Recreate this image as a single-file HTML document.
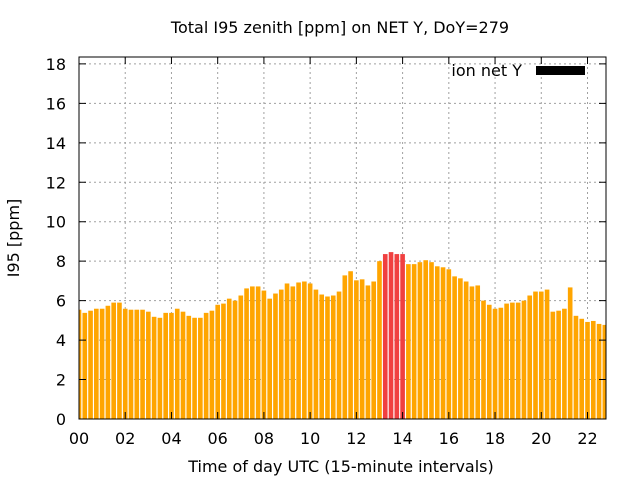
<!DOCTYPE html>
<html><head><meta charset="utf-8"><style>
body{margin:0;background:#fff;}
svg{display:block;font-family:"DejaVu Sans","Liberation Sans",sans-serif;}
</style></head><body>
<svg id="chart" width="640" height="480" viewBox="0 0 640 480">
<text x="340" y="33" text-anchor="middle" font-size="16">Total I95 zenith [ppm] on NET Y, DoY=279</text>
<text x="341" y="472" text-anchor="middle" font-size="16">Time of day UTC (15-minute intervals)</text>
<text x="19" y="238" text-anchor="middle" font-size="16" transform="rotate(-90 19 238)">I95 [ppm]</text>
<g id="grid"></g>
<g id="bars"></g>
<g id="axes"></g>
<g>
<text x="522" y="76" text-anchor="end" font-size="16">ion net Y</text>
<rect x="536" y="66" width="49" height="9" fill="#000"/>
</g>
</svg>
<script>
const values=[5.54,5.38,5.49,5.59,5.59,5.74,5.90,5.90,5.59,5.54,5.54,5.54,5.44,5.18,5.13,5.38,5.38,5.59,5.44,5.23,5.13,5.13,5.38,5.49,5.79,5.85,6.10,6.0,6.26,6.62,6.72,6.72,6.51,6.10,6.36,6.56,6.87,6.72,6.92,6.97,6.87,6.56,6.31,6.21,6.26,6.46,7.28,7.49,7.03,7.08,6.77,6.97,8.0,8.36,8.46,8.36,8.36,7.85,7.85,7.95,8.05,7.95,7.74,7.69,7.59,7.23,7.13,6.97,6.72,6.77,6.0,5.79,5.59,5.64,5.85,5.90,5.90,6.0,6.26,6.46,6.46,6.56,5.44,5.49,5.59,6.67,5.23,5.08,4.92,4.97,4.82,4.77];
const xTickLabels=["00","02","04","06","08","10","12","14","16","18","20","22"];
const yTicks=[0,2,4,6,8,10,12,14,16,18];
const threshold=8.2;
const L=79,R=606,T=57,B=419;
const xMin=0,xMax=91.2,yMin=0,yMax=18.35;
const X=v=>L+(v-xMin)/(xMax-xMin)*(R-L);
const Y=v=>B-(v-yMin)/(yMax-yMin)*(B-T);
const NS="http://www.w3.org/2000/svg";
function mk(tag,attrs,parent){const e=document.createElementNS(NS,tag);for(const k in attrs)e.setAttribute(k,attrs[k]);parent.appendChild(e);return e;}
const grid=document.getElementById('grid'),bars=document.getElementById('bars'),axes=document.getElementById('axes');
yTicks.forEach(t=>{
 const y=Y(t);
 if(t>0){const g=mk('line',{x1:L,x2:R,y1:y,y2:y,stroke:'#a0a0a0','stroke-width':1,'stroke-dasharray':'2,3'},grid);
 
 }
 const tk=mk('path',{d:`M${L} ${y}h7M${R} ${y}h-7`,stroke:'#000'},axes);
 
 
 const lb=mk('text',{x:66,y:y+6,'text-anchor':'end','font-size':16},axes);lb.textContent=t;
 
 
});
xTickLabels.forEach((s,i)=>{
 const x=X(i*8);
 if(i>0){const g=mk('line',{x1:x,x2:x,y1:T,y2:B,stroke:'#a0a0a0','stroke-width':1,'stroke-dasharray':'2,3'},grid);
 
 }
 const tk=mk('path',{d:`M${x} ${B}v-7M${x} ${T}v7`,stroke:'#000'},axes);
 
 
 const lb=mk('text',{x:x,y:444,'text-anchor':'middle','font-size':16},axes);lb.textContent=s;
 
 
});
const bw=(X(1)-X(0))*0.8;
values.forEach((v,i)=>{
 let x0=X(i)-bw/2,x1=X(i)+bw/2;x0=Math.max(x0,L);x1=Math.min(x1,R);
 if(x1<=x0)return;
 const r=mk('rect',{x:x0,y:Y(v),width:x1-x0,height:B-Y(v),fill:v>threshold?'#f04040':'#ffa500'},bars);
 
 
});
const fr=mk('rect',{x:L,y:T,width:R-L,height:B-T,fill:'none',stroke:'#000','stroke-width':1},axes);


</script>
</body></html>
